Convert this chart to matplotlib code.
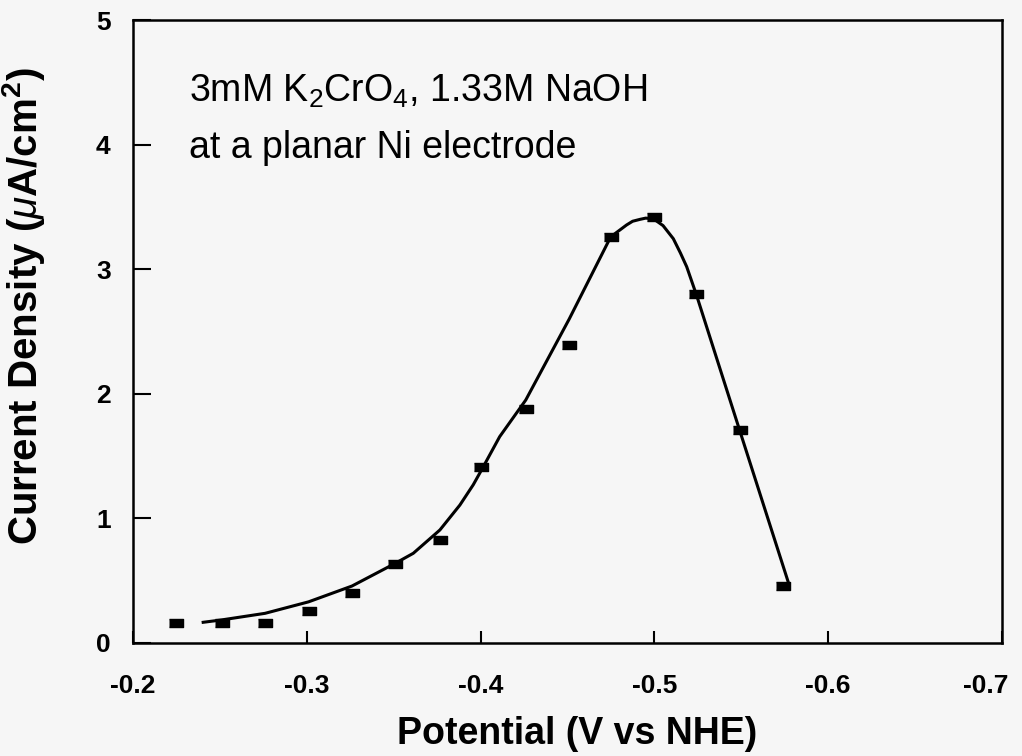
import matplotlib
matplotlib.use("Agg")
import matplotlib.pyplot as plt
import matplotlib.transforms as mtransforms

# measured points (V vs NHE, uA/cm2)
pts_x = [-0.225, -0.251, -0.276, -0.301, -0.326, -0.351, -0.3766, -0.400,
         -0.426, -0.451, -0.475, -0.4996, -0.524, -0.549, -0.574]
pts_y = [0.16, 0.16, 0.16, 0.26, 0.40, 0.63, 0.83, 1.41,
         1.88, 2.39, 3.26, 3.42, 2.80, 1.71, 0.46]

# fitted curve
fit_x = [-0.2404, -0.251, -0.276, -0.301, -0.326, -0.351, -0.3613, -0.3766,
         -0.3881, -0.3958, -0.401, -0.411, -0.426, -0.451, -0.4749, -0.484,
         -0.4875, -0.4917, -0.495, -0.4994, -0.505, -0.5109, -0.515, -0.5186,
         -0.5243, -0.549, -0.577]
fit_y = [0.166, 0.185, 0.238, 0.33, 0.457, 0.64, 0.72, 0.907,
         1.107, 1.27, 1.40, 1.656, 1.95, 2.60, 3.26, 3.355,
         3.385, 3.40, 3.41, 3.405, 3.35, 3.245, 3.13, 3.02,
         2.79, 1.71, 0.49]

x_ticks = [-0.2, -0.3, -0.4, -0.5, -0.6, -0.7]
y_ticks = [0, 1, 2, 3, 4, 5]

plt.rcParams['font.family'] = ['Liberation Sans', 'DejaVu Sans']
plt.rcParams['mathtext.fontset'] = 'custom'
plt.rcParams['mathtext.rm'] = 'Liberation Sans'
plt.rcParams['mathtext.it'] = 'Liberation Sans:italic'
plt.rcParams['mathtext.bf'] = 'Liberation Sans:bold'

bg = '#f6f6f6'
fig = plt.figure(figsize=(10.22, 7.56), dpi=100, facecolor=bg)
ax = fig.add_axes([0.1301, 0.1495, 0.8503, 0.824], facecolor=bg)

ax.plot(fit_x, fit_y, color='black', lw=2.2, zorder=2)
box = [(-1.6, -1), (1.6, -1), (1.6, 1), (-1.6, 1)]
ax.plot(pts_x, pts_y, ls='none', marker=box, markersize=9.5,
        color='black', zorder=3)

ax.set_xlim(-0.2, -0.7)
ax.set_ylim(0, 5)
ax.set_xticks(x_ticks)
ax.set_xticklabels([f'{v:.1f}' for v in x_ticks])
ax.set_yticks(y_ticks)

for s in ax.spines.values():
    s.set_linewidth(1.8)
ax.tick_params(axis='x', direction='in', length=9, width=1.5, pad=22,
               labelsize=19)
ax.tick_params(axis='y', direction='in', length=13, width=1.5, pad=16,
               labelsize=19)
for lab in ax.get_xticklabels() + ax.get_yticklabels():
    lab.set_fontweight('bold')

# last x label sits a little left of its tick so it stays on the page
last = ax.get_xticklabels()[-1]
last.set_transform(last.get_transform() +
                   mtransforms.ScaledTranslation(-12 / 72, 0, fig.dpi_scale_trans))

ax.set_xlabel('Potential (V vs NHE)', fontsize=27, fontweight='bold')
ax.xaxis.set_label_coords(0.511, -0.117)
ax.set_ylabel(r'Current Density ($\mu$A/cm$^\mathbf{2}$)', fontsize=29,
              fontweight='bold')
ax.yaxis.set_label_coords(-0.099, 0.541)

ax.text(0.065, 0.885, r'3mM K$_2$CrO$_4$, 1.33M NaOH',
        transform=ax.transAxes, fontsize=27, va='center')
ax.text(0.065, 0.795, 'at a planar Ni electrode',
        transform=ax.transAxes, fontsize=27, va='center')

fig.savefig('out.png', dpi=100, facecolor=bg)
